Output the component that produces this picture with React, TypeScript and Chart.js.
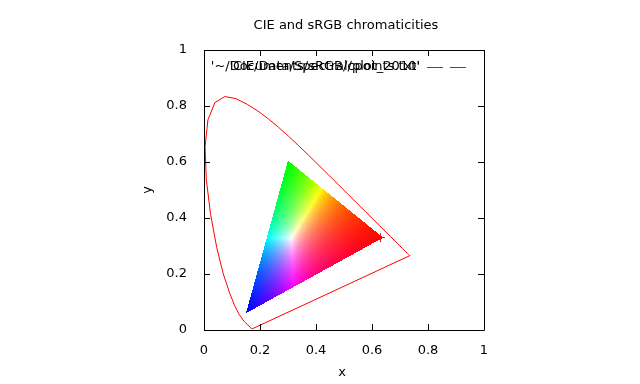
import React, { useEffect, useRef } from "react";
import { Chart, registerables } from "chart.js";

Chart.register(...registerables);

// CIE 1931 spectral locus chromaticities (x, y)
const locusX = [0.1741, 0.1738, 0.1733, 0.1726, 0.1714, 0.1689, 0.1644, 0.1566, 0.144, 0.1241, 0.1096, 0.0913, 0.0687, 0.0454, 0.0235, 0.0082, 0.0039, 0.0139, 0.0389, 0.0743, 0.1142, 0.1547, 0.1929, 0.2296, 0.2658, 0.3016, 0.3373, 0.3731, 0.4087, 0.4441, 0.4788, 0.5125, 0.5448, 0.5752, 0.6029, 0.627, 0.6658, 0.6915, 0.7079, 0.719, 0.726, 0.73, 0.7334, 0.7347];
const locusY = [0.005, 0.0049, 0.0048, 0.0048, 0.0051, 0.0069, 0.0109, 0.0177, 0.0297, 0.0578, 0.0868, 0.1327, 0.2007, 0.295, 0.4127, 0.5384, 0.6548, 0.7502, 0.812, 0.8338, 0.8262, 0.8059, 0.7816, 0.7543, 0.7243, 0.6923, 0.6589, 0.6245, 0.5896, 0.5547, 0.5202, 0.4866, 0.4544, 0.4242, 0.3965, 0.3725, 0.334, 0.3083, 0.292, 0.2809, 0.274, 0.27, 0.2666, 0.2653];

// sRGB primaries (R, G, B)
const primaryX = [0.64, 0.3, 0.15];
const primaryY = [0.33, 0.605, 0.06];

// red marker
const markerX = [0.63];
const markerY = [0.33];

const xTicks = [0, 0.2, 0.4, 0.6, 0.8, 1];
const yTicks = [0, 0.2, 0.4, 0.6, 0.8, 1];

const titleText = "CIE and sRGB chromaticities";
const xLabel = "x";
const yLabel = "y";
const legendTexts = ["'~/Documents/sRGB/cpoints.txt'", "'CIE/Data/Spectral/plot_2010'"];

const FAMILY = "'DejaVu Sans', sans-serif";
const FONT = "13px " + FAMILY;

function srgbColor(x: number, y: number): [number, number, number] {
  const X = x / y;
  const Y = 1;
  const Z = (1 - x - y) / y;
  let r = 3.2406 * X - 1.5372 * Y - 0.4986 * Z;
  let g = -0.9689 * X + 1.8758 * Y + 0.0415 * Z;
  let b = 0.0557 * X - 0.204 * Y + 1.057 * Z;
  r = Math.max(0, r);
  g = Math.max(0, g);
  b = Math.max(0, b);
  const m = Math.max(r, g, b) || 1;
  const enc = (c: number) => Math.round(Math.min(1, Math.max(0, c / m)) * 255);
  return [enc(r), enc(g), enc(b)];
}

const gamutPlugin = {
  id: "gamut",
  beforeDatasetsDraw(chart: any) {
    const ctx = chart.ctx as CanvasRenderingContext2D;
    const xs = chart.scales.x;
    const ys = chart.scales.y;
    const pts = primaryX.map((px, i) => [px, primaryY[i]]);
    const pxs = pts.map((p) => [xs.getPixelForValue(p[0]), ys.getPixelForValue(p[1])]);
    const minX = Math.floor(Math.min(...pxs.map((p) => p[0])));
    const maxX = Math.ceil(Math.max(...pxs.map((p) => p[0])));
    const minY = Math.floor(Math.min(...pxs.map((p) => p[1])));
    const maxY = Math.ceil(Math.max(...pxs.map((p) => p[1])));
    const w = maxX - minX + 1;
    const h = maxY - minY + 1;
    const img = ctx.getImageData(minX, minY, w, h);
    const [x1, y1] = pts[0];
    const [x2, y2] = pts[1];
    const [x3, y3] = pts[2];
    const det = (y2 - y3) * (x1 - x3) + (x3 - x2) * (y1 - y3);
    for (let j = 0; j < h; j++) {
      for (let i = 0; i < w; i++) {
        const cx = xs.getValueForPixel(minX + i + 0.5);
        const cy = ys.getValueForPixel(minY + j + 0.5);
        const l1 = ((y2 - y3) * (cx - x3) + (x3 - x2) * (cy - y3)) / det;
        const l2 = ((y3 - y1) * (cx - x3) + (x1 - x3) * (cy - y3)) / det;
        const l3 = 1 - l1 - l2;
        if (l1 < 0 || l2 < 0 || l3 < 0) continue;
        const [r, g, b] = srgbColor(cx, cy);
        const k = (j * w + i) * 4;
        img.data[k] = r;
        img.data[k + 1] = g;
        img.data[k + 2] = b;
        img.data[k + 3] = 255;
      }
    }
    ctx.putImageData(img, minX, minY);
  },
  afterDraw(chart: any) {
    const ctx = chart.ctx as CanvasRenderingContext2D;
    const { left, right, top, bottom } = chart.chartArea;
    const xs = chart.scales.x;
    const ys = chart.scales.y;
    ctx.save();
    ctx.strokeStyle = "#000";
    ctx.lineWidth = 1;
    ctx.beginPath();
    ctx.rect(Math.round(left) + 0.5, Math.round(top) + 0.5, Math.round(right - left), Math.round(bottom - top));
    ctx.stroke();
    const tl = 6;
    ctx.beginPath();
    xTicks.forEach((v) => {
      const px = Math.round(xs.getPixelForValue(v)) + 0.5;
      ctx.moveTo(px, bottom);
      ctx.lineTo(px, bottom - tl);
      ctx.moveTo(px, top);
      ctx.lineTo(px, top + tl);
    });
    yTicks.forEach((v) => {
      const py = Math.round(ys.getPixelForValue(v)) + 0.5;
      ctx.moveTo(left, py);
      ctx.lineTo(left + tl, py);
      ctx.moveTo(right, py);
      ctx.lineTo(right - tl, py);
    });
    ctx.stroke();

    ctx.fillStyle = "#000";
    ctx.font = FONT;
    ctx.textAlign = "center";
    ctx.textBaseline = "middle";
    ctx.fillText(titleText, (left + right) / 2 + 2, 26);
    ctx.fillText(xLabel, (left + right) / 2 - 2, 373);
    ctx.save();
    ctx.translate(148, (top + bottom) / 2);
    ctx.rotate(-Math.PI / 2);
    ctx.fillText(yLabel, 0, 0);
    ctx.restore();

    // overlapping key entries (as in original)
    ctx.textAlign = "right";
    legendTexts.forEach((t) => ctx.fillText(t, left + 216, top + 17));
    ctx.strokeStyle = "red";
    ctx.setLineDash([16, 7]);
    ctx.beginPath();
    ctx.moveTo(left + 223, top + 17.5);
    ctx.lineTo(left + 263, top + 17.5);
    ctx.stroke();
    ctx.restore();
  },
};

export default function App() {
  const ref = useRef<HTMLCanvasElement>(null);
  useEffect(() => {
    if (!ref.current) return;
    const locus = locusX.map((x, i) => ({ x, y: locusY[i] }));
    locus.push({ x: locusX[0], y: locusY[0] });
    const tickFont = { family: FAMILY, size: 13 };
    const chart = new Chart(ref.current, {
      type: "scatter",
      data: {
        datasets: [
          {
            label: "locus",
            data: locus,
            showLine: true,
            borderColor: "red",
            borderWidth: 1,
            pointRadius: 0,
            tension: 0,
          },
          {
            label: "marker",
            data: markerX.map((x, i) => ({ x, y: markerY[i] })),
            showLine: false,
            pointStyle: "cross",
            pointRadius: 4.5,
            borderColor: "red",
            borderWidth: 1,
          },
        ],
      },
      options: {
        animation: false,
        responsive: false,
        devicePixelRatio: 1,
        layout: { padding: { top: 50, right: 156, left: 0, bottom: 0 } },
        plugins: { legend: { display: false }, title: { display: false }, tooltip: { enabled: false } },
        scales: {
          x: {
            type: "linear",
            min: 0,
            max: 1,
            afterFit: (s: any) => {
              s.height = 54;
            },
            afterBuildTicks: (s: any) => {
              s.ticks = xTicks.map((v) => ({ value: v }));
            },
            grid: { display: false },
            border: { display: false },
            ticks: { color: "#000", font: tickFont, padding: 5, maxRotation: 0, callback: (v: any) => String(+Number(v).toFixed(2)) },
          },
          y: {
            type: "linear",
            min: 0,
            max: 1,
            afterFit: (s: any) => {
              s.width = 204;
            },
            afterBuildTicks: (s: any) => {
              s.ticks = yTicks.map((v) => ({ value: v }));
            },
            grid: { display: false },
            border: { display: false },
            ticks: { color: "#000", font: tickFont, padding: 9, callback: (v: any) => String(+Number(v).toFixed(2)) },
          },
        },
      },
      plugins: [gamutPlugin],
    });
    return () => chart.destroy();
  }, []);
  return (
    <div style={{ position: "fixed", left: 0, top: 0, width: 640, height: 384, background: "#fff" }}>
      <canvas ref={ref} width={640} height={384} style={{ width: 640, height: 384 }} />
    </div>
  );
}
